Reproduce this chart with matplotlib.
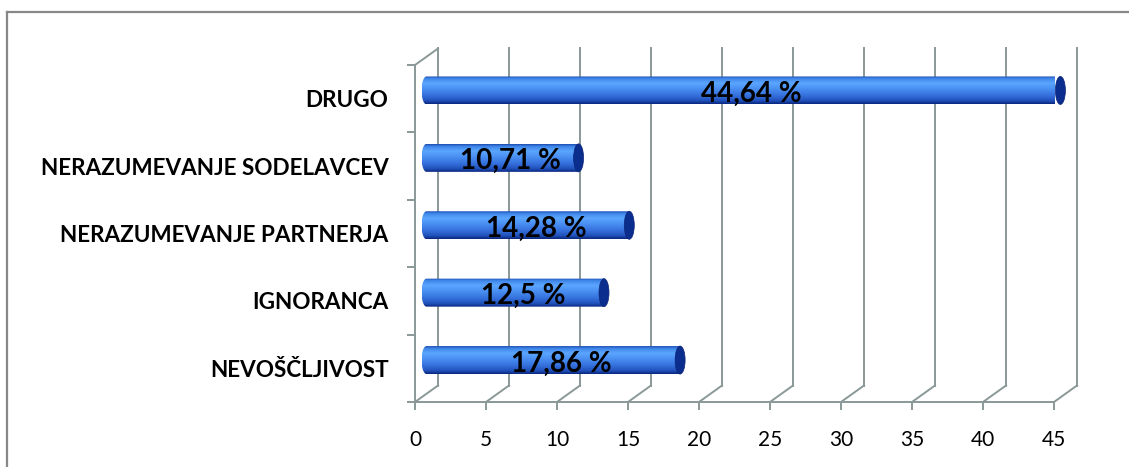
import numpy as np
import matplotlib
matplotlib.use("Agg")
import matplotlib.pyplot as plt
from matplotlib.path import Path
from matplotlib.patches import PathPatch, Ellipse
from matplotlib.lines import Line2D
from matplotlib.colors import to_rgb

# ---- data ----
categories = ['NEVOŠČLJIVOST', 'IGNORANCA', 'NERAZUMEVANJE PARTNERJA',
              'NERAZUMEVANJE SODELAVCEV', 'DRUGO']
values = [17.86, 12.5, 14.28, 10.71, 44.64]
value_labels = ['17,86 %', '12,5 %', '14,28 %', '10,71 %', '44,64 %']
x_ticks = [0, 5, 10, 15, 20, 25, 30, 35, 40, 45]

plt.rcParams['font.family'] = ['Lato', 'DejaVu Sans']

W, H = 1129, 467
fig = plt.figure(figsize=(W / 100, H / 100), dpi=100)
fig.patch.set_facecolor('white')

# front plane of the 3D box in pixels
x_left, x_right, y_bot, y_top = 415, 1054, 402, 65
ax = fig.add_axes([x_left / W, (H - y_bot) / H, (x_right - x_left) / W, (y_bot - y_top) / H])
n = len(categories)
ax.set_xlim(0, 45)
ax.set_ylim(0, n)
ax.patch.set_alpha(0)

grid_c = '#8a9898'
lw_grid = 1.4

# pixel -> data scale
ppx = (x_right - x_left) / 45.0
ppy = (y_bot - y_top) / float(n)
ddx = 23 / ppx       # depth offset in x (data)
ddy = 16.5 / ppy     # depth offset in y (data)

# spines / ticks
for s in ['top', 'right']:
    ax.spines[s].set_visible(False)
for s in ['left', 'bottom']:
    ax.spines[s].set_color(grid_c)
    ax.spines[s].set_linewidth(lw_grid)
ax.set_xticks(x_ticks)
ax.set_xticklabels([str(t) for t in x_ticks], fontsize=15)
ax.tick_params(axis='x', direction='out', length=6, width=lw_grid, color=grid_c, pad=14)
ax.set_yticks(np.arange(n) + 0.5)
ax.set_yticklabels(categories, fontsize=16.2, fontweight='bold')
ax.tick_params(axis='y', which='major', length=0, pad=19)
ax.set_yticks(np.arange(n + 1), minor=True)
ax.tick_params(axis='y', which='minor', direction='out', length=6, width=lw_grid, color=grid_c)

# back wall gridlines + floor diagonals
for t in x_ticks:
    ax.plot([t + ddx, t + ddx], [ddy, n + ddy], color=grid_c, lw=lw_grid, clip_on=False, zorder=1)
    ax.plot([t, t + ddx], [0, ddy], color=grid_c, lw=lw_grid, clip_on=False, zorder=1)
# left wall top edge
ax.plot([0, ddx], [n, n + ddy], color=grid_c, lw=lw_grid, clip_on=False, zorder=1)

# gradient for cylinder
stops = [(0.0, '#1d4fb5'), (0.08, '#3f86e8'), (0.25, '#5ba6ff'), (0.45, '#4a90f2'),
         (0.7, '#3570dc'), (0.88, '#2152bb'), (1.0, '#0a2780')]
N = 64
pos = np.linspace(0, 1, N)
sp = np.array([s[0] for s in stops])
cols = np.array([to_rgb(s[1]) for s in stops])
grad = np.stack([np.interp(pos, sp, cols[:, k]) for k in range(3)], axis=-1)[:, None, :]

bar_h = 28 / ppy
rx = 5 / ppx
for i, (v, lab) in enumerate(zip(values, value_labels)):
    yc = i + 0.5 + ddy / 2
    x0 = ddx / 2
    x1 = v + ddx / 2
    yb, yt = yc - bar_h / 2, yc + bar_h / 2
    th = np.linspace(-np.pi / 2, -3 * np.pi / 2, 30)
    arc_x = x0 + rx * np.cos(th)
    arc_y = yc + (bar_h / 2) * np.sin(th)
    vx = np.concatenate([[x1], arc_x, [x1, x1]])
    vy = np.concatenate([[yb], arc_y, [yt, yb]])
    verts = np.column_stack([vx, vy])
    codes = [Path.MOVETO] + [Path.LINETO] * (len(verts) - 2) + [Path.CLOSEPOLY]
    clip = PathPatch(Path(verts, codes), transform=ax.transData, facecolor='none', edgecolor='none')
    ax.add_patch(clip)
    clip.set_clip_on(False)
    im = ax.imshow(grad, extent=(x0 - rx, x1, yb, yt), origin='upper', aspect='auto',
                   interpolation='bilinear', zorder=3)
    im.set_clip_box(None)
    im.set_clip_path(clip)
    cap = Ellipse((x1, yc), 2 * rx, bar_h, facecolor='#0b2d8e', edgecolor='#0a2478', lw=0.5,
                  zorder=4, clip_on=False)
    ax.add_patch(cap)
    ax.text(v / 2 + ddx / 2 + 8 / ppx, yc - 3.5 / ppy, lab, ha='center', va='center', fontsize=20,
            fontweight='bold', color='black', zorder=5, clip_on=False)

ax.set_xlim(0, 45)
ax.set_ylim(0, n)

# outer border (left and top)
fig.add_artist(Line2D([7 / W, 7 / W], [0, 1 - 12 / H], transform=fig.transFigure, color='#888888', lw=1.6))
fig.add_artist(Line2D([7 / W, 1], [1 - 12 / H, 1 - 12 / H], transform=fig.transFigure, color='#888888', lw=1.6))

fig.savefig('out.png', dpi=100, facecolor='white')
